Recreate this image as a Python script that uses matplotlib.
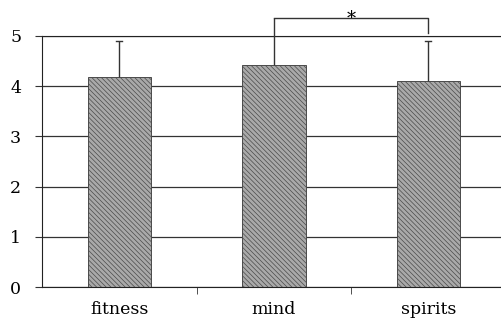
import matplotlib
matplotlib.use("Agg")
import matplotlib.pyplot as plt
import numpy as np

categories = ["fitness", "mind", "spirits"]
means = [4.18, 4.42, 4.10]
errors = [0.72, 0.94, 0.80]
yticks = [0, 1, 2, 3, 4, 5]
sig_pair = (1, 2)
sig_level = 5.36
sig_label = "*"

plt.rcParams['font.family'] = ['DejaVu Serif']
plt.rcParams['hatch.linewidth'] = 0.5
plt.rcParams['hatch.color'] = '#6e6e6e'

fig = plt.figure(figsize=(5.01, 3.24), dpi=100)
ax = fig.add_axes([42/501, 37/324, 1 - 42/501, 251/324])

x = np.arange(len(categories))
ax.set_axisbelow(True)
ax.yaxis.grid(True, color='#333333', linewidth=0.9)
ax.bar(x, means, width=0.41, color='#a9a9a9', edgecolor='#4a4a4a',
       linewidth=0.7, hatch='\\\\\\\\\\\\\\', zorder=2)

tops = np.array(means) + np.array(errors)
ax.vlines(x, means, tops, color='#333333', linewidth=1.0, zorder=3, clip_on=False)
cap = 0.02
for i, (xi, t) in enumerate(zip(x, tops)):
    if i == sig_pair[0]:
        continue  # merged into the significance bracket
    ax.plot([xi - cap, xi + cap], [t, t], color='#333333', linewidth=1.0, zorder=3,
            clip_on=False)

# significance bracket
x1, x2 = sig_pair
ax.plot([x1, x1, x2, x2], [means[x1] + errors[x1], sig_level, sig_level, 5.05],
        color='#333333', linewidth=1.0, clip_on=False, zorder=4)
ax.text((x1 + x2) / 2, sig_level - 0.02, sig_label, ha='center', va='center',
        fontsize=13, clip_on=False)

ax.set_xlim(-0.5, 2.47)
ax.set_ylim(0, 5)
ax.set_yticks(yticks)
ax.set_yticklabels([str(t) for t in yticks], fontsize=12.5)
ax.set_xticks(x)
ax.set_xticklabels(categories, fontsize=12.5)
ax.tick_params(axis='x', length=0, pad=10)
ax.set_xticks([0.5, 1.5], minor=True)
ax.tick_params(axis='x', which='minor', length=5, direction='out', color='#333333')
ax.tick_params(axis='y', length=5, direction='out', color='#333333', pad=10)

ax.spines['right'].set_visible(False)
for s in ['top', 'left', 'bottom']:
    ax.spines[s].set_color('#222222')

fig.savefig("out.png", dpi=100)
